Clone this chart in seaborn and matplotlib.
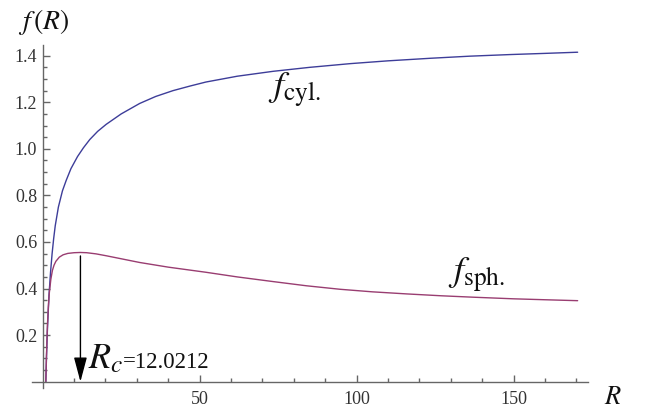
import matplotlib
matplotlib.use("Agg")
import matplotlib.pyplot as plt
from matplotlib.ticker import FixedLocator
import seaborn as sns
import pandas as pd

# ---- data ----
R_cyl = [1.0, 1.2, 1.5, 2.0, 2.5, 3.0, 3.5, 4.0, 5.0, 6.3, 7.5, 9.0, 11.1, 13.0,
         15.0, 17.5, 20.2, 25.0, 30.9, 36.0, 41.5, 47.0, 52.0, 62.0, 73.4, 85.0,
         98.0, 110.0, 123.5, 136.0, 149.0, 160.0, 170.4]
f_cyl = [0.0, 0.10, 0.22, 0.37, 0.47, 0.55, 0.615, 0.67, 0.75, 0.82, 0.865, 0.915,
         0.967, 1.005, 1.04, 1.075, 1.105, 1.15, 1.195, 1.225, 1.25, 1.27, 1.287,
         1.312, 1.333, 1.35, 1.366, 1.378, 1.389, 1.398, 1.405, 1.410, 1.415]

R_sph = [1.0, 1.2, 1.5, 1.8, 2.1, 2.6, 3.1, 3.6, 4.2, 5.3, 6.5, 8.0, 10.0, 12.0,
         14.0, 17.0, 20.2, 25.0, 30.9, 40.0, 52.0, 62.0, 73.4, 84.0, 94.7, 105.0,
         116.0, 127.0, 137.0, 150.0, 160.0, 170.4]
f_sph = [0.0, 0.11, 0.24, 0.32, 0.38, 0.44, 0.478, 0.50, 0.517, 0.535, 0.545, 0.551,
         0.554, 0.555, 0.554, 0.549, 0.541, 0.528, 0.512, 0.492, 0.47, 0.45, 0.43,
         0.412, 0.397, 0.386, 0.377, 0.369, 0.363, 0.356, 0.352, 0.348]

R_c = 12.0212
f_at_Rc = 0.54
x_ticks = [50, 100, 150]
y_ticks = [0.2, 0.4, 0.6, 0.8, 1.0, 1.2, 1.4]
y_ticklabels = ["0.2", "0.4", "0.6", "0.8", "1.0", "1.2", "1.4"]

df_cyl = pd.DataFrame({"R": R_cyl, "f": f_cyl})
df_sph = pd.DataFrame({"R": R_sph, "f": f_sph})

sns.set_style("white")
plt.rcParams["font.family"] = ["Liberation Serif", "DejaVu Serif"]
plt.rcParams["mathtext.fontset"] = "stix"

fig = plt.figure(figsize=(6.51, 4.13), dpi=100)
ax = fig.add_axes([31.7 / 651, (413 - 388) / 413, (588 - 31.7) / 651, (388 - 45) / 413])

c_cyl = "#3d3d99"
c_sph = "#993d71"
sns.lineplot(data=df_cyl, x="R", y="f", ax=ax, color=c_cyl, lw=1.0, sort=False)
sns.lineplot(data=df_sph, x="R", y="f", ax=ax, color=c_sph, lw=1.0, sort=False)

ax.set_xlim(-3.5, 173.7)
ax.set_ylim(-0.027, 1.446)
ax.set_xlabel("")
ax.set_ylabel("")

for s in ["top", "right"]:
    ax.spines[s].set_visible(False)
ax.spines["left"].set_position(("data", 0))
ax.spines["bottom"].set_position(("data", 0))
for s in ["left", "bottom"]:
    ax.spines[s].set_color("#666666")
    ax.spines[s].set_linewidth(1.0)

ax.xaxis.set_major_locator(FixedLocator(x_ticks))
ax.xaxis.set_minor_locator(FixedLocator([v for v in range(10, 175, 10) if v % 50 != 0]))
ax.yaxis.set_major_locator(FixedLocator(y_ticks))
ax.set_yticklabels(y_ticklabels)
ax.yaxis.set_minor_locator(FixedLocator([round(0.05 * k, 2) for k in range(1, 29) if k % 4 != 0]))

ax.tick_params(axis="both", which="both", bottom=True, left=True, top=False, right=False)
ax.tick_params(axis="both", which="major", direction="in", length=5, width=1,
               color="#666666", labelsize=13, labelcolor="#333333")
ax.tick_params(axis="both", which="minor", direction="in", length=3, width=1,
               color="#666666")
ax.tick_params(axis="x", which="major", pad=7)
ax.tick_params(axis="y", which="major", pad=4)

# arrow marking R_c
ax.annotate("", xy=(R_c, 0.0), xytext=(R_c, f_at_Rc),
            arrowprops=dict(arrowstyle="-|>,head_length=1.5,head_width=0.4",
                            color="black", lw=1.0, shrinkA=0, shrinkB=0,
                            mutation_scale=10), zorder=5)
ax.text(14.4, 0.06, r"$R_c$", fontsize=26, ha="left", va="baseline", color="#111111")
ax.text(25.6, 0.06, "=12.0212", fontsize=16.5, ha="left", va="baseline", color="#111111")

# curve labels
ax.text(71.8, 1.22, r"$f_{\mathrm{cyl.}}$", fontsize=26, ha="left", va="baseline",
        color="#111111")
ax.text(129.0, 0.428, r"$f_{\mathrm{sph.}}$", fontsize=26, ha="left", va="baseline",
        color="#111111")

# axis labels
ax.text(181.6, -0.068, r"$R$", fontsize=19, ha="center", va="center",
        clip_on=False, color="#111111")
ax.text(0.4, 1.545, r"$f\,(R)$", fontsize=20, ha="center", va="center",
        clip_on=False, color="#111111")

fig.savefig("out.png", dpi=100)
